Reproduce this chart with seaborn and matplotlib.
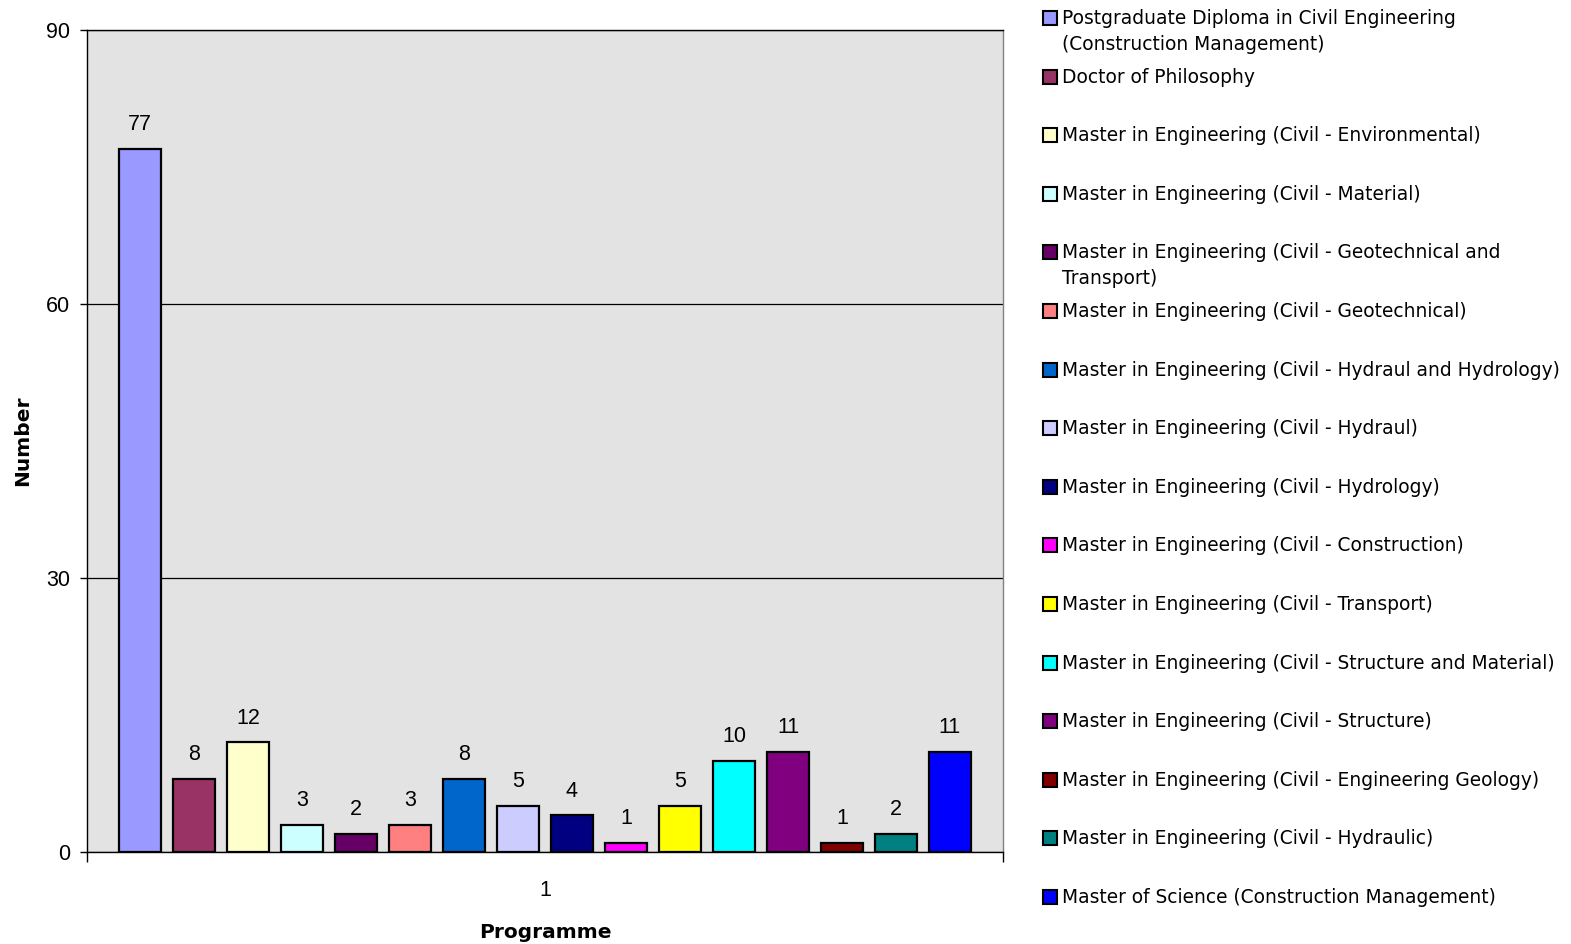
import numpy as np
import pandas as pd
import matplotlib
matplotlib.use('Agg')
import matplotlib.pyplot as plt
from matplotlib.patches import Rectangle
import seaborn as sns

programmes = [
    'Postgraduate Diploma in Civil Engineering\n(Construction Management)',
    'Doctor of Philosophy',
    'Master in Engineering (Civil - Environmental)',
    'Master in Engineering (Civil - Material)',
    'Master in Engineering (Civil - Geotechnical and\nTransport)',
    'Master in Engineering (Civil - Geotechnical)',
    'Master in Engineering (Civil - Hydraul and Hydrology)',
    'Master in Engineering (Civil - Hydraul)',
    'Master in Engineering (Civil - Hydrology)',
    'Master in Engineering (Civil - Construction)',
    'Master in Engineering (Civil - Transport)',
    'Master in Engineering (Civil - Structure and Material)',
    'Master in Engineering (Civil - Structure)',
    'Master in Engineering (Civil - Engineering Geology)',
    'Master in Engineering (Civil - Hydraulic)',
    'Master of Science (Construction Management)',
]
numbers = [77, 8, 12, 3, 2, 3, 8, 5, 4, 1, 5, 10, 11, 1, 2, 11]
colors = ['#9999ff', '#993366', '#ffffcc', '#ccffff', '#660066', '#ff8080',
          '#0066cc', '#ccccff', '#000080', '#ff00ff', '#ffff00', '#00ffff',
          '#800080', '#800000', '#008080', '#0000ff']
yticks = [0, 30, 60, 90]

W, H = 1571, 944
df = pd.DataFrame({'Programme': ['1'] * len(numbers),
                   'Name': programmes,
                   'Number': numbers})

sns.set_style('white')
plt.rcParams['font.family'] = ['DejaVu Sans']
plt.rcParams['text.color'] = 'black'
plt.rcParams['axes.labelcolor'] = 'black'
plt.rcParams['xtick.color'] = 'black'
plt.rcParams['ytick.color'] = 'black'

fig = plt.figure(figsize=(W / 100, H / 100), dpi=100)
ax = fig.add_axes([87 / W, 1 - 852 / H, (1003 - 87) / W, (852 - 30) / H])
ax.set_facecolor('#e3e3e3')

sns.barplot(data=df, x='Programme', y='Number', hue='Name', palette=colors,
            saturation=1, width=0.943, dodge=True, edgecolor='black',
            linewidth=1.6, legend=False, ax=ax, zorder=3)

# Excel-style gap between bars
f = 42 / 54
for p in ax.patches:
    w = p.get_width()
    p.set_x(p.get_x() + w * (1 - f) / 2)
    p.set_width(w * f)

for c in ax.containers:
    ax.bar_label(c, padding=10, fontsize=15.5, family='Liberation Sans',
                 color='black')

ax.set_ylim(0, 90)
ax.set_xlim(-0.5, 0.5)
ax.set_yticks(yticks)
ax.yaxis.grid(True, color='black', linewidth=0.9, zorder=1)
ax.set_axisbelow(True)
ax.tick_params(axis='y', length=5, width=1, pad=7, labelsize=15.5, left=True)
for lab in ax.get_yticklabels():
    lab.set_family('Liberation Sans')
ax.tick_params(axis='x', which='major', length=0, pad=20, labelsize=15.5)
for lab in ax.get_xticklabels():
    lab.set_family('Liberation Sans')
ax.set_xticks([-0.5, 0.5], minor=True)
ax.tick_params(axis='x', which='minor', length=7, width=1, bottom=True)

for s in ['left', 'bottom', 'top']:
    ax.spines[s].set_color('black')
    ax.spines[s].set_linewidth(1)
ax.spines['right'].set_color('#808080')
ax.spines['right'].set_linewidth(1)

ax.set_xlabel('Programme', fontsize=14.5, fontweight='bold', labelpad=16)
ax.set_ylabel('Number', fontsize=14.5, fontweight='bold', labelpad=10)

# legend drawn Excel-style: marker beside first line of each entry
step = 58.6
for i, (name, col) in enumerate(zip(programmes, colors)):
    yc = 18 + i * step
    fig.add_artist(Rectangle((1043 / W, 1 - (yc + 7) / H), 14 / W, 14 / H,
                             transform=fig.transFigure, facecolor=col,
                             edgecolor='black', linewidth=1.5))
    fig.text(1062 / W, 1 - (yc - 9) / H, name, fontsize=13.4, va='top',
             ha='left', linespacing=1.45)

fig.savefig('out.png', dpi=100)
